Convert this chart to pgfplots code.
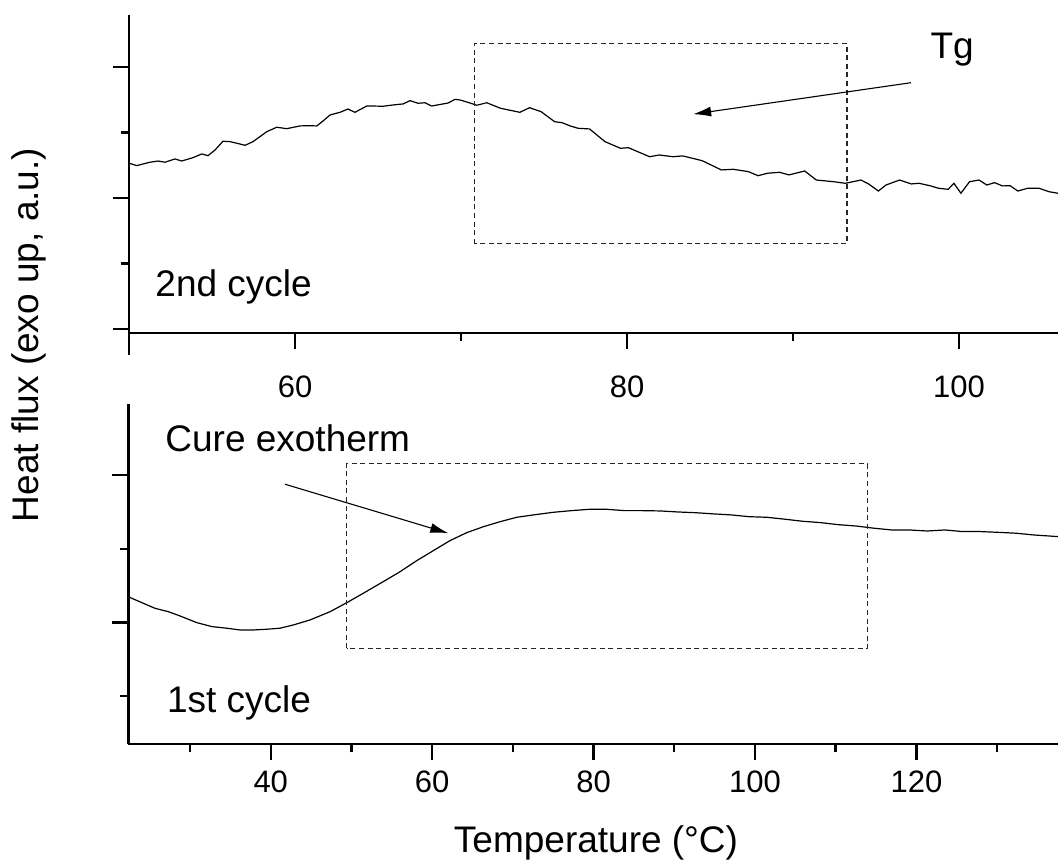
\documentclass[border=0pt]{standalone}
\usepackage{fontspec}
\setmainfont{Liberation Sans}
\usepackage{pgfplots}
\pgfplotsset{compat=1.18}
\usetikzlibrary{arrows.meta}

\pgfplotsset{
  dsc/.style={
    scale only axis,
    axis x line=bottom, axis y line=left,
    axis line style={-, line width=1.4pt},
    tick align=outside,
    major tick length=8pt, minor tick length=4.2pt,
    tick style={line width=1.2pt, black},
    yticklabels={},
    /pgf/number format/assume math mode=true,
    ticklabel style={font=\fontsize{15.5}{18}\selectfont},
    clip mode=individual,
    anchor=south west,
  },
}
\tikzset{
  curve/.style={black, line width=0.6pt},
  dbox/.style={black!85, line width=0.55pt, dash pattern=on 2.5pt off 1.8pt},
  arr/.style={black, line width=0.55pt, -{Latex[length=9pt,width=5pt]}},
}
\newcommand{\bigtxt}{\fontsize{18.5}{22}\selectfont}

\begin{document}
\begin{tikzpicture}
\useasboundingbox (0pt,0pt) rectangle (529pt,-430pt);

% ---------------- top: 2nd cycle ----------------
\begin{axis}[dsc,
  at={(64.5pt,-166.5pt)}, width=464.5pt, height=159pt,
  xmin=50, xmax=105.96, ymin=-0.031, ymax=2.397,
  xtick={60,80,100}, minor xtick={50,70,90},
  ytick={0,1,2}, minor ytick={0.5,1.5},
  xticklabel style={anchor=center, yshift=-19pt},
]
\addplot[curve, mark=none] coordinates {
(50.02,1.265) (50.46,1.247) (51.27,1.273) (51.75,1.282) (52.17,1.273)
(52.77,1.298) (53.17,1.282) (53.86,1.308) (54.38,1.336) (54.76,1.323)
(55.18,1.366) (55.66,1.433) (56.08,1.430) (56.49,1.418) (56.99,1.402)
(57.47,1.430) (58.30,1.506) (58.90,1.540) (59.50,1.529) (60.30,1.550)
(60.78,1.552) (61.31,1.550) (61.69,1.588) (62.11,1.634) (62.71,1.654)
(63.19,1.679) (63.61,1.654) (64.32,1.702) (64.70,1.702) (65.30,1.700)
(65.90,1.710) (66.51,1.718) (66.93,1.743) (67.41,1.723) (67.83,1.727)
(68.23,1.702) (68.92,1.718) (69.22,1.725) (69.64,1.753) (69.94,1.748)
(70.34,1.733) (70.95,1.708) (71.55,1.727) (72.37,1.685) (73.54,1.654)
(74.13,1.689) (74.82,1.659) (75.64,1.582) (76.08,1.575) (76.57,1.550)
(77.05,1.532) (77.74,1.527) (78.67,1.430) (79.61,1.379) (80.08,1.384)
(80.78,1.346) (81.36,1.315) (81.94,1.328) (82.76,1.315) (83.35,1.321)
(84.52,1.285) (85.68,1.214) (86.39,1.219) (87.31,1.201) (87.89,1.170)
(88.48,1.189) (89.19,1.196) (89.76,1.176) (90.70,1.206) (91.40,1.137)
(92.45,1.124) (93.15,1.112) (94.09,1.137) (94.55,1.107) (95.14,1.053)
(95.60,1.099) (96.42,1.137) (97.12,1.107) (97.59,1.112) (98.29,1.092)
(98.76,1.074) (99.34,1.066) (99.69,1.112) (100.11,1.036) (100.63,1.124)
(101.20,1.137) (101.67,1.099) (102.14,1.117) (102.61,1.092) (103.07,1.094)
(103.54,1.053) (104.13,1.074) (104.82,1.074) (105.41,1.048) (105.95,1.036)
};
\draw[dbox] (axis cs:70.8,0.65) rectangle (axis cs:93.25,2.18);
\draw[arr] (axis cs:97.1,1.88) -- (axis cs:83.98,1.64);
\node[anchor=base, inner sep=0pt, font=\bigtxt] at (axis cs:99.58,2.066) {Tg};
\node[anchor=base west, inner sep=0pt, font=\bigtxt] at (axis cs:51.57,0.247) {2nd cycle};
\end{axis}
\draw[line width=1.4pt] (64.5pt,-166.5pt) -- (64.5pt,-177.5pt);

% ---------------- bottom: 1st cycle ----------------
\begin{axis}[dsc,
  at={(64.15pt,-372pt)}, width=464.9pt, height=170pt,
  xmin=22.35, xmax=137.56, ymin=0.176, ymax=2.481,
  xtick={40,60,80,100,120}, minor xtick={30,50,70,90,110,130},
  ytick={1,2}, minor ytick={0.5,1.5},
  xticklabel style={anchor=center, yshift=-11pt},
]
\addplot[curve, mark=none] coordinates {
(22.48,1.171) (24.21,1.130) (25.66,1.096) (27.31,1.073) (28.76,1.044)
(30.83,0.999) (32.69,0.972) (34.55,0.961) (36.20,0.949) (37.84,0.949)
(39.50,0.954) (41.15,0.961) (42.80,0.983) (44.87,1.017) (47.35,1.073)
(49.42,1.134) (51.47,1.198) (53.95,1.277) (56.02,1.344) (58.09,1.419)
(60.15,1.487) (62.22,1.555) (64.29,1.609) (66.34,1.649) (68.41,1.683)
(70.48,1.713) (72.54,1.729) (75.03,1.747) (77.24,1.758) (79.44,1.767)
(81.65,1.767) (83.85,1.758) (86.05,1.758) (88.25,1.756) (90.46,1.749)
(92.66,1.744) (94.87,1.736) (97.08,1.729) (99.28,1.717) (101.49,1.713)
(103.69,1.700) (105.90,1.686) (108.10,1.677) (110.31,1.663) (112.52,1.654)
(114.72,1.639) (116.93,1.627) (119.13,1.627) (121.33,1.620) (123.53,1.627)
(125.74,1.616) (127.94,1.616) (130.15,1.611) (132.35,1.605) (134.56,1.593)
(137.56,1.582)
};
\draw[dbox] (axis cs:49.42,0.825) rectangle (axis cs:113.96,2.075);
\draw[arr] (axis cs:41.77,1.937) -- (axis cs:62.0,1.605);
\node[anchor=base west, inner sep=0pt, font=\bigtxt] at (axis cs:26.90,2.158) {Cure exotherm};
\node[anchor=base west, inner sep=0pt, font=\bigtxt] at (axis cs:27.11,0.389) {1st cycle};
\end{axis}

% ---------------- axis titles ----------------
\node[anchor=base, inner sep=0pt, font=\bigtxt] at (298pt,-426pt) {Temperature (°C)};
\node[rotate=90, anchor=base, inner sep=0pt, font=\bigtxt] at (19.5pt,-167.5pt) {Heat flux (exo up, a.u.)};
\end{tikzpicture}
\end{document}
